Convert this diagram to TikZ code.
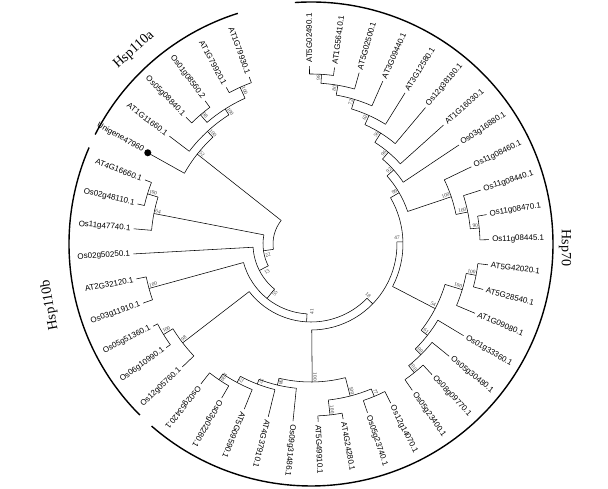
\documentclass[tikz,border=0pt]{standalone}
\usepackage{fontspec}
\setmainfont{Liberation Serif}
\newfontfamily\leaffont{Liberation Sans}
\newcommand\trad[3]{\draw (#1:#2) -- (#1:#3);}
\newcommand\tarc[3]{\draw (#2:#1) arc[start angle=#2, end angle=#3, radius=#1];}
\newcommand\tnd[5]{\trad{#1}{#2}{#3}\tarc{#3}{#4}{#5}}
\newcommand\lfR[4]{\draw (#2:#3) -- (#2:178);\node[leaf, anchor=west, rotate=#2] (#1) at (#2:181) {#4};}
\newcommand\lfL[4]{\draw (#2:#3) -- (#2:178);\node[leaf, anchor=east, rotate=#2+180] (#1) at (#2:181) {#4};}
\newcommand\bsR[4]{\node[bsv, anchor=south east, rotate=#2] (#1) at (#2:#3) {#4};}
\newcommand\bsL[4]{\node[bsv, anchor=south west, rotate=#2+180] (#1) at (#2:#3) {#4};}
\begin{document}
\begin{tikzpicture}[x=1pt,y=1pt,line width=0.55pt,
  leaf/.style={font=\leaffont\fontsize{8}{8}\selectfont, inner sep=0pt},
  bsv/.style={font=\fontsize{5.3}{5.3}\selectfont, text=black!75, inner sep=0.8pt},
  grp/.style={font=\fontsize{14}{14}\selectfont, inner sep=0pt},
  outer/.style={line width=1.4pt}]
\useasboundingbox[fill=white] (-311,-245) rectangle (297,244);
% ---------- outer group arcs ----------
\draw[outer] (93.8:242) arc[start angle=93.8, end angle=-131.2, radius=242];
\draw[outer] (107.6:242) arc[start angle=107.6, end angle=153.1, radius=242];
\draw[outer] (156.5:242) arc[start angle=156.5, end angle=225, radius=242];
\node[grp, rotate=42] (g1) at (-177,194) {Hsp110a};
\node[grp, rotate=100] (g2) at (-261,-61) {Hsp110b};
\node[grp, rotate=-90] (g3) at (254,-4) {Hsp70};
% ---------- central spine ----------
\tarc{38}{141.7}{188.1}
\tnd{188.1}{38}{48}{169.02}{207.1}
\tnd{207.1}{48}{58}{183.2}{231.05}
\tnd{231.05}{58}{70}{195.35}{266.75}
\tnd{266.75}{70}{78}{217.6}{315.9}
\tnd{315.9}{78}{86}{270.5}{361.35}
% ---------- Hsp70 upper ----------
\tnd{1.35}{86}{92}{-27.5}{30.2}
\tnd{30.2}{92}{102}{18.61}{41.84}
\tnd{41.84}{102}{111}{33.8}{49.87}
\tnd{49.87}{111}{120}{41.9}{57.85}
\tnd{57.85}{120}{131}{50}{65.69}
\tnd{65.69}{131}{141}{58.1}{73.29}
\tnd{73.29}{141}{151}{66.2}{80.375}
\tnd{80.375}{151}{161}{74.3}{86.45}
\tnd{86.45}{161}{170}{82.4}{90.5}
\tnd{18.61}{102}{148}{11.525}{25.7}
\tnd{11.525}{148}{160}{5.45}{17.6}
\tnd{5.45}{160}{169}{1.4}{9.5}
% ---------- Hsp70 lower ----------
\tnd{-27.5}{92}{140}{-38.1}{-16.8}
\tnd{-16.8}{140}{158}{-22.9}{-10.75}
\tnd{-10.75}{158}{168}{-14.8}{-6.7}
\tnd{-38.1}{140}{148}{-45.2}{-31}
\tnd{-45.2}{148}{156}{-51.25}{-39.1}
\tnd{-51.25}{156}{165}{-55.3}{-47.2}
% ---------- bottom clade ----------
\tnd{-89.5}{86}{138}{-103.4}{-75.55}
\tnd{-103.4}{138}{145}{-111}{-95.8}
\tnd{-111}{145}{150}{-118.1}{-103.9}
\tnd{-118.1}{150}{157}{-124.15}{-112}
\tnd{-124.15}{157}{164}{-128.2}{-120.1}
\tnd{-75.55}{138}{157}{-83.65}{-67.45}
\tnd{-83.65}{157}{172}{-87.7}{-79.6}
\tnd{-67.45}{157}{165}{-71.5}{-63.4}
% ---------- Hsp110b ----------
\tnd{169.02}{48}{160}{162.95}{175.1}
\tnd{162.95}{160}{171}{158.9}{167}
\tnd{195.35}{70}{168}{191.3}{199.4}
\tnd{217.6}{78}{162}{211.55}{223.7}
\tnd{211.55}{162}{173}{207.5}{215.6}
% ---------- Hsp110a ----------
\tnd{141.7}{38}{145}{132.6}{150.8}
\tnd{132.6}{145}{153}{122.45}{142.7}
\tnd{122.45}{153}{160}{114.35}{130.55}
\tnd{130.55}{160}{170}{126.5}{134.6}
\tnd{114.35}{160}{172}{110.3}{118.4}
% ---------- leaves ----------
\lfR{L1}{90.5}{170}{AT5G02490.1}
\lfR{L2}{82.4}{170}{AT1G56410.1}
\lfR{L3}{74.3}{161}{AT5G02500.1}
\lfR{L4}{66.2}{151}{AT3G09440.1}
\lfR{L5}{58.1}{141}{AT3G12580.1}
\lfR{L6}{50}{131}{Os12g38180.1}
\lfR{L7}{41.9}{120}{AT1G16030.1}
\lfR{L8}{33.8}{111}{Os03g16880.1}
\lfR{L9}{25.7}{148}{Os11g08460.1}
\lfR{L10}{17.6}{160}{Os11g08440.1}
\lfR{L11}{9.5}{169}{Os11g08470.1}
\lfR{L12}{1.4}{169}{Os11g08445.1}
\lfR{L13}{-6.7}{168}{AT5G42020.1}
\lfR{L14}{-14.8}{168}{AT5G28540.1}
\lfR{L15}{-22.9}{158}{AT1G09080.1}
\lfR{L16}{-31}{148}{Os01g33360.1}
\lfR{L17}{-39.1}{156}{Os05g30480.1}
\lfR{L18}{-47.2}{165}{Os08g09770.1}
\lfR{L19}{-55.3}{165}{Os05g23400.1}
\lfR{L20}{-63.4}{165}{Os12g14070.1}
\lfR{L21}{-71.5}{165}{Os05g23740.1}
\lfR{L22}{-79.6}{172}{AT4G24280.1}
\lfR{L23}{-87.7}{172}{AT5G49910.1}
\lfR{L24}{-95.8}{145}{Os09g31486.1}
\lfR{L25}{-103.9}{150}{AT4G37910.1}
\lfR{L26}{-112}{157}{AT5G09590.1}
\lfR{L27}{-120.1}{164}{Os03g02280.1}
\lfR{L28}{-128.2}{164}{Os02g53420.1}
\lfL{L29}{223.7}{162}{Os12g05760.1}
\lfL{L30}{215.6}{173}{Os06g10990.1}
\lfL{L31}{207.5}{173}{Os05g51360.1}
\lfL{L32}{199.4}{168}{Os03g11910.1}
\lfL{L33}{191.3}{168}{AT2G32120.1}
\lfL{L34}{183.2}{58}{Os02g50250.1}
\lfL{L35}{175.1}{160}{Os11g47740.1}
\lfL{L36}{167}{171}{Os02g48110.1}
\lfL{L37}{158.9}{171}{AT4G16660.1}
\draw (150.8:145) -- (150.8:184);
\fill (150.8:187) circle (3.5);
\node[leaf, anchor=east, rotate=330.8] (L38) at (150.8:192) {Unigene47960};
\lfL{L39}{142.7}{153}{AT1G11660.1}
\lfL{L40}{134.6}{170}{Os05g08840.1}
\lfL{L41}{126.5}{170}{Os01g08560.2}
\lfL{L42}{118.4}{172}{AT1G79920.1}
\lfL{L43}{110.3}{172}{AT1G79930.1}
% ---------- bootstrap values ----------
\bsR{b1}{86.45}{170}{98}
\bsR{b2}{80.375}{161}{80}
\bsR{b3}{73.29}{151}{72}
\bsR{b4}{65.69}{141}{62}
\bsR{b5}{57.85}{131}{56}
\bsR{b6}{49.87}{120}{96}
\bsR{b7}{41.84}{111}{92}
\bsR{b8}{30.2}{102}{99}
\bsR{b9}{18.61}{148}{100}
\bsR{b10}{11.525}{160}{100}
\bsR{b11}{5.45}{169}{90}
\bsR{b12}{-10.75}{168}{100}
\bsR{b13}{-16.8}{158}{100}
\bsR{b14}{-27.5}{140}{54}
\bsR{b15}{-38.1}{148}{61}
\bsR{b16}{-45.2}{156}{100}
\bsR{b17}{-51.25}{165}{100}
\bsR{b18}{-89.5}{138}{100}
\bsR{b19}{-103.4}{145}{98}
\bsR{b20}{-111}{150}{57}
\bsR{b21}{-118.1}{157}{72}
\bsR{b22}{-124.15}{164}{100}
\bsR{b23}{-75.55}{157}{100}
\bsR{b24}{-83.65}{172}{100}
\bsR{b25}{-67.45}{165}{77}
\bsL{b26}{217.6}{162}{98}
\bsL{b27}{211.55}{173}{100}
\bsL{b28}{195.35}{168}{100}
\bsL{b29}{169.02}{160}{64}
\bsL{b30}{162.95}{171}{100}
\bsL{b31}{141.7}{145}{52}
\bsL{b32}{132.6}{153}{100}
\bsL{b33}{122.45}{160}{100}
\bsL{b34}{130.55}{170}{98}
\bsL{b35}{114.35}{172}{100}
\node[bsv, rotate=14] (c1) at (-43,-11) {22};
\node[bsv, rotate=32] (c2) at (-44,-28) {13};
\node[bsv, rotate=54] (c3) at (-36,-49) {55};
\node[bsv, rotate=90] (c4) at (1,-68) {41};
\node[bsv, rotate=-42] (c5) at (57,-51) {18};
\node[bsv, rotate=1] (c6) at (86,6) {47};
\end{tikzpicture}
\end{document}
